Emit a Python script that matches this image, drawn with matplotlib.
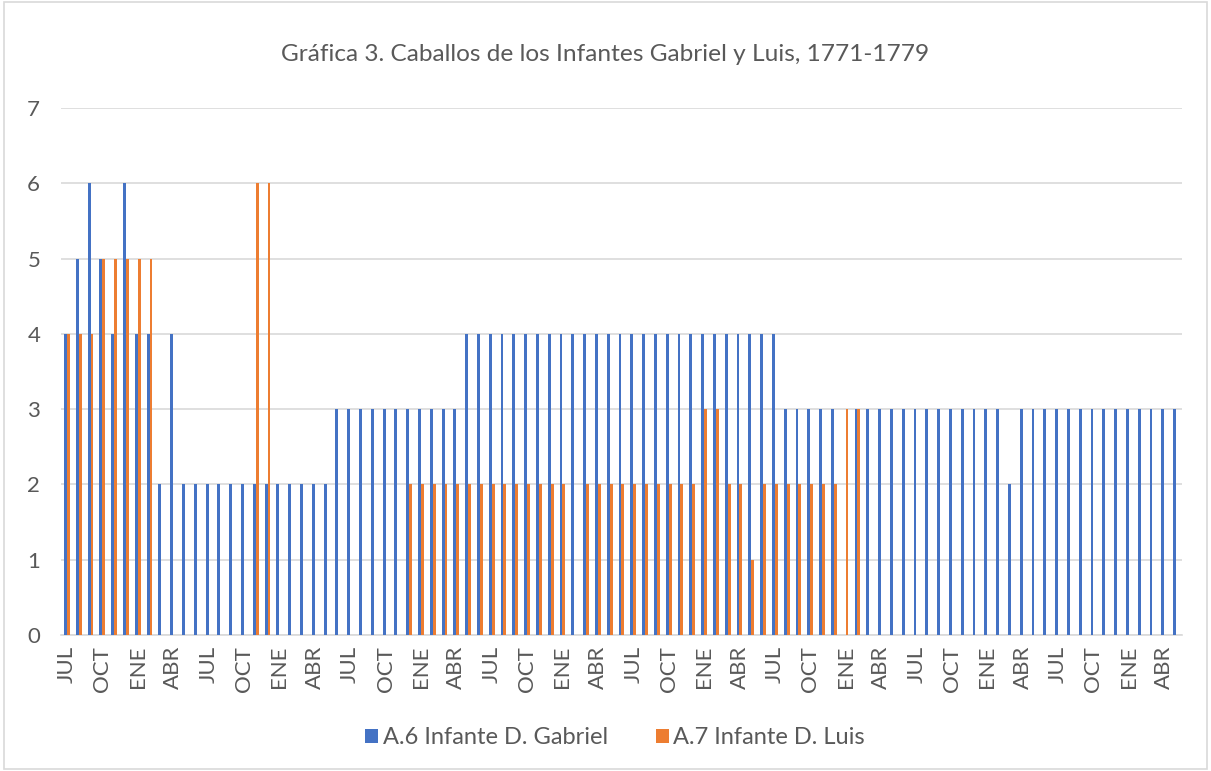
import numpy as np
import matplotlib.pyplot as plt
from matplotlib.patches import Rectangle

# monthly counts, JUL 1771 - MAY 1779
gabriel = [4, 5, 6, 5, 4, 6, 4, 4, 2, 4,
           2, 2, 2, 2, 2, 2, 2, 2, 2, 2,
           2, 2, 2, 3, 3, 3, 3, 3, 3, 3,
           3, 3, 3, 3, 4, 4, 4, 4, 4, 4,
           4, 4, 4, 4, 4, 4, 4, 4, 4, 4,
           4, 4, 4, 4, 4, 4, 4, 4, 4, 4,
           4, 3, 3, 3, 3, 3, 0, 3, 3, 3,
           3, 3, 3, 3, 3, 3, 3, 3, 3, 3,
           2, 3, 3, 3, 3, 3, 3, 3, 3, 3,
           3, 3, 3, 3, 3]
luis = [4, 4, 4, 5, 5, 5, 5, 5, 0, 0,
        0, 0, 0, 0, 0, 0, 6, 6, 0, 0,
        0, 0, 0, 0, 0, 0, 0, 0, 0, 2,
        2, 2, 2, 2, 2, 2, 2, 2, 2, 2,
        2, 2, 2, 0, 2, 2, 2, 2, 2, 2,
        2, 2, 2, 2, 3, 3, 2, 2, 1, 2,
        2, 2, 2, 2, 2, 2, 3, 3, 0, 0,
        0, 0, 0, 0, 0, 0, 0, 0, 0, 0,
        0, 0, 0, 0, 0, 0, 0, 0, 0, 0,
        0, 0, 0, 0, 0]
tick_labels = ["JUL", "OCT", "ENE", "ABR"] * 8

title = "Gráfica 3. Caballos de los Infantes Gabriel y Luis, 1771-1779"
series_names = ["A.6 Infante D. Gabriel", "A.7 Infante D. Luis"]

BLUE = "#4472C4"
ORANGE = "#ED7D31"
TEXT = "#595959"
GRID = "#D9D9D9"

plt.rcParams['font.family'] = ['Lato', 'DejaVu Sans']

fig = plt.figure(figsize=(12.11, 7.71), dpi=100)
ax = fig.add_axes([0.0504, 0.1764, 0.9256, 0.6835])

x = np.arange(len(gabriel))
w = 0.24
ax.bar(x - w / 2, gabriel, width=w, color=BLUE, label=series_names[0], zorder=3)
ax.bar(x + w / 2, luis, width=w, color=ORANGE, label=series_names[1], zorder=3)

ax.set_xlim(-0.5, len(gabriel) - 0.5)
ax.set_ylim(0, 7)
ax.set_yticks(range(8))
ax.set_xticks(x[::3])
ax.set_xticklabels(tick_labels, rotation=90)
ax.tick_params(axis='both', length=0, colors=TEXT, labelsize=16)
ax.tick_params(axis='y', pad=15)
ax.tick_params(axis='x', pad=8)
ax.grid(axis='y', color=GRID, linewidth=1.2, zorder=0)
for s in ['top', 'right', 'left']:
    ax.spines[s].set_visible(False)
ax.spines['bottom'].set_color(GRID)
ax.spines['bottom'].set_linewidth(1.2)

fig.text(0.5, 0.929, title, ha='center', va='center', fontsize=17.6, color=TEXT)

leg = fig.legend(loc='center', bbox_to_anchor=(0.508, 0.043), ncol=2, frameon=False,
                 fontsize=17, handlelength=0.55, handleheight=0.55, handletextpad=0.2,
                 columnspacing=2.0)
for t in leg.get_texts():
    t.set_color(TEXT)

fig.patches.append(Rectangle((0.003, 0.002), 0.994, 0.996, transform=fig.transFigure,
                             fill=False, edgecolor=GRID, linewidth=1.2))

fig.savefig("out.png", dpi=100)
